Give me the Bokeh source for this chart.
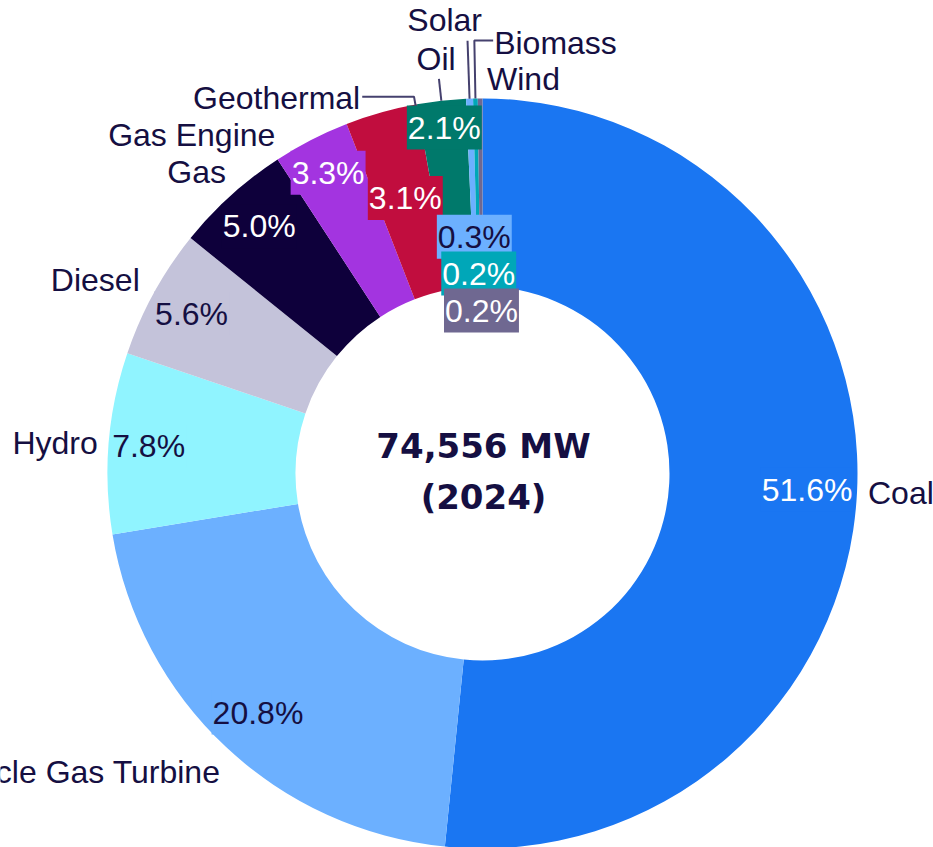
import math
from bokeh.plotting import figure
from bokeh.models import ColumnDataSource, Range1d
from bokeh.core.properties import value
from bokeh.embed import file_html
from bokeh.resources import INLINE

# ---------------- data ----------------
categories = ["Coal", "Combined Cycle Gas Turbine", "Hydro", "Diesel", "Gas",
              "Gas Engine", "Geothermal", "Oil", "Solar", "Biomass", "Wind"]
shares = [51.6, 20.8, 7.8, 5.6, 5.0, 3.3, 3.1, 2.1, 0.3, 0.2, 0.2]
total_capacity_mw = 74556
year = 2024

# ---------------- styles / layout ----------------
colors = ["#1a76f2", "#6cb0ff", "#90f4ff", "#c4c3da", "#0e003b",
          "#a334e0", "#c10d3e", "#00796b", "#6cb0ff", "#00a7b8", "#6f6891"]
pct_text_colors = ["white", "#150f42", "#150f42", "#150f42", "white",
                   "white", "white", "white", "#150f42", "white", "white"]
pct_radius = [325, 328, 335, 332, 333, 338, 286, 348, 237, 200, 163]
NAME_R = 390
name_offsets = [(-4, 0), (5, -14), (4, -1), (-1, 6), (5, 12), (-29, -8),
                (-17, 0), (16, 27), (13, 64), (19, 41), (7, 5)]
name_align = ["left", "right", "right", "right", "right", "right",
              "right", "right", "right", "left", "left"]
# leader: (fraction inside slice, r start, r elbow, horizontal end offset from label x)
leaders = {"Geothermal": (0.98, 373, 383, 2),
           "Oil": (0.5, 375, 397, None),
           "Solar": (0.5, 375, 433, None),
           "Biomass": (0.5, 375, 433, -1)}
R_OUT, R_IN = 375, 187
TEXT = "#150f42"
LINE = "#45416e"
FONT = "Liberation Sans"
FSIZE = "32px"

# ---------------- geometry from data ----------------
tot = sum(shares)
cum = [0.0]
for s in shares:
    cum.append(cum[-1] + s / tot)
theta0 = [2 * math.pi * c for c in cum[:-1]]          # clockwise from top
theta1 = [2 * math.pi * c for c in cum[1:]]
thetam = [(a + b) / 2 for a, b in zip(theta0, theta1)]

wedges = ColumnDataSource(dict(
    start=[math.pi / 2 - t for t in theta0],
    end=[math.pi / 2 - t for t in theta1],
    color=colors, cat=categories))

pct = ColumnDataSource(dict(
    x=[r * math.sin(t) for r, t in zip(pct_radius, thetam)],
    y=[r * math.cos(t) for r, t in zip(pct_radius, thetam)],
    text=[f"{s:.1f}%" for s in shares],
    color=pct_text_colors, bg=colors))

nx = [NAME_R * math.sin(t) + d[0] for t, d in zip(thetam, name_offsets)]
ny = [NAME_R * math.cos(t) + d[1] for t, d in zip(thetam, name_offsets)]

p = figure(width=933, height=847, x_range=Range1d(-482, 451), y_range=Range1d(-374, 473),
           output_backend="svg", toolbar_location=None, min_border=0)
p.axis.visible = False
p.grid.visible = False
p.outline_line_color = None
p.background_fill_color = "white"

p.annular_wedge(x=0, y=0, inner_radius=R_IN, outer_radius=R_OUT,
                start_angle="start", end_angle="end", direction="clock",
                fill_color="color", line_color=None, source=wedges)

# leader lines
lxs, lys = [], []
for i, c in enumerate(categories):
    if c not in leaders:
        continue
    f, r1, r2, hend = leaders[c]
    t = theta0[i] + f * (theta1[i] - theta0[i])
    xs = [r1 * math.sin(t), r2 * math.sin(t)]
    ys = [r1 * math.cos(t), r2 * math.cos(t)]
    if hend is not None:
        xs.append(nx[i] + hend)
        ys.append(ys[-1])
    lxs.append(xs)
    lys.append(ys)
p.multi_line(xs=lxs, ys=lys, line_color=LINE, line_width=2)

# percentage labels with coloured boxes
p.text(x="x", y="y", text="text", source=pct, text_color="color",
       text_font=value(FONT), text_font_size=FSIZE,
       text_align="center", text_baseline="middle",
       background_fill_color="bg", padding=(1, 4))

# category names
for al in ("left", "right"):
    idx = [i for i in range(len(categories)) if name_align[i] == al]
    p.text(x=[nx[i] for i in idx], y=[ny[i] for i in idx],
           text=[categories[i] for i in idx], text_color=TEXT,
           text_font=value(FONT), text_font_size=FSIZE,
           text_align=al, text_baseline="middle")

# centre text
p.text(x=[1, 1], y=[28, -23], text=[f"{total_capacity_mw:,} MW", f"({year})"],
       text_color=TEXT, text_font=value("DejaVu Sans"), text_font_size="34px",
       text_font_style="bold", text_align="center", text_baseline="middle")

open("out.html", "w").write(file_html(p, INLINE))
